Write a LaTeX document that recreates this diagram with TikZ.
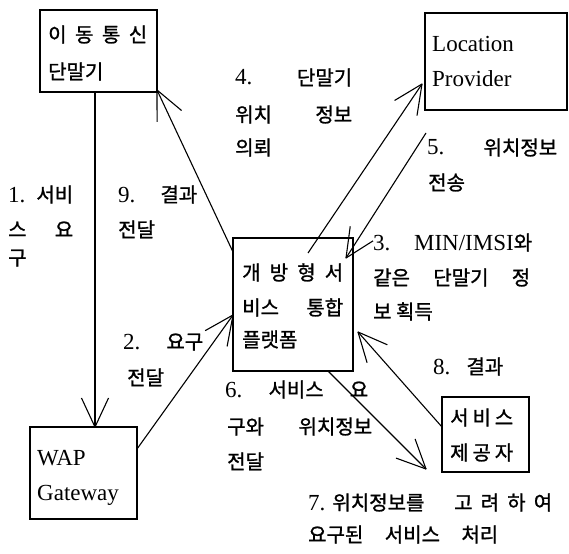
\documentclass[tikz,border=0pt]{standalone}
\usepackage{fontspec}
\setmainfont{Liberation Serif}
\newfontfamily\krfont[FakeBold=1.2]{Noto Sans CJK KR}
\usetikzlibrary{calc}
\newcommand\kk[1]{{\krfont\fontsize{20}{24}\selectfont #1}}
\newcommand\jst[2]{\makebox[#1pt][s]{#2}}
\newcommand\conn[2]{%
  \draw[ln] (#1) -- (#2);
  \draw[ln] ($(#2)!32pt!25:(#1)$) -- (#2) -- ($(#2)!32pt!-25:(#1)$);}
\begin{document}
\begin{tikzpicture}[x=1pt,y=-1pt,
  box/.style={draw, line width=1.3pt, inner sep=0pt, outer sep=0pt, anchor=north west},
  txt/.style={inner sep=0pt, anchor=base west, font=\fontsize{23}{27}\selectfont},
  ln/.style={line width=1.1pt, line join=round}]
\fill[white] (0,0) rectangle (569,553);
\useasboundingbox (0,0) rectangle (569,553);

% boxes
\node[box, minimum width=117pt, minimum height=82pt] (term) at (40,10) {};
\node[box, minimum width=142pt, minimum height=97pt] (lp) at (425,13) {};
\node[box, minimum width=120pt, minimum height=133pt] (plat) at (233,238) {};
\node[box, minimum width=107pt, minimum height=92pt] (wap) at (30,427) {};
\node[box, minimum width=87pt, minimum height=75pt] (sp) at (442,397) {};

% box texts
\node[txt] (t1) at (48,42) {\jst{99}{\kk{이\hfill 동\hfill 통\hfill 신}}};
\node[txt] (t2) at (48,79) {\kk{단말기}};
\node[txt] (lp1) at (432,52) {Location};
\node[txt] (lp2) at (432,87) {Provider};
\node[txt] (p1) at (242,280) {\jst{101}{\kk{개\hfill 방\hfill 형\hfill 서}}};
\node[txt] (p2) at (242,315) {\jst{101}{\kk{비스\hfill 통합}}};
\node[txt] (p3) at (242,347) {\kk{플랫폼}};
\node[txt] (w1) at (37,465) {WAP};
\node[txt] (w2) at (37,500) {Gateway};
\node[txt] (s1) at (450,425) {\jst{63}{\kk{서\hfill 비\hfill 스}}};
\node[txt] (s2) at (450,460) {\jst{63}{\kk{제\hfill 공\hfill 자}}};

% labels
\node[txt] (l4a) at (235,85) {\jst{117}{4.\hfill\kk{단말기}}};
\node[txt] (l4b) at (235,122) {\jst{117}{\kk{위치\hfill 정보}}};
\node[txt] (l4c) at (235,155) {\kk{의뢰}};
\node[txt] (l5a) at (427,155) {\jst{130}{5.\hfill\kk{위치정보}}};
\node[txt] (l5b) at (428,190) {\kk{전송}};
\node[txt] (l3a) at (373,250) {\jst{159}{3.\hfill MIN/IMSI\kk{와}}};
\node[txt] (l3b) at (373,285) {\jst{157}{\kk{같은\hfill 단말기\hfill 정}}};
\node[txt] (l3c) at (373,319) {\kk{보 획득}};
\node[txt] (l8) at (433,374) {\jst{70}{8.\hfill\kk{결과}}};
\node[txt] (l1a) at (8,202) {\jst{65}{1.\hfill\kk{서비}}};
\node[txt] (l1b) at (8,237) {\jst{65}{\kk{스\hfill 요}}};
\node[txt] (l1c) at (8,265) {\kk{구}};
\node[txt] (l9a) at (118,202) {\jst{79}{9.\hfill\kk{결과}}};
\node[txt] (l9b) at (118,237) {\kk{전달}};
\node[txt] (l2a) at (123,349) {\jst{80}{2.\hfill\kk{요구}}};
\node[txt] (l2b) at (127,385) {\kk{전달}};
\node[txt] (l6a) at (225,397) {\jst{143}{6.\hfill\kk{서비스\hfill 요}}};
\node[txt] (l6b) at (227,434) {\jst{145}{\kk{구와\hfill 위치정보}}};
\node[txt] (l6c) at (227,469) {\kk{전달}};
\node[txt] (l7a) at (308,510) {\jst{244}{7.\hspace{7pt}\kk{위치정보를}\hfill\jst{98}{\kk{고\hfill 려\hfill 하\hfill 여}}}};
\node[txt] (l7b) at (308,542) {\jst{190}{\kk{요구된\hfill 서비스\hfill 처리}}};

% connector end points
\coordinate (a1s) at (term.south -| 95,0);
\coordinate (a1e) at (wap.north -| 95,0);
\coordinate (a2s) at (wap.east |- 0,449);
\coordinate (a2e) at (plat.west |- 0,315);
\coordinate (a9s) at (plat.west |- 0,252);
\coordinate (a9e) at ($(term.south east)+(0,-2)$);
\coordinate (a4s) at ($(plat.north west)+(75,15)$);
\coordinate (a4e) at ($(lp.west |- 0,84)+(-3,0)$);
\coordinate (a5s) at ($(lp.south west)+(1,23)$);
\coordinate (a5e) at ($(plat.north east)+(-7,20)$);
\coordinate (a6s) at (plat.south -| 328,0);
\coordinate (a6e) at ($(sp.south west)+(-16,-3)$);
\coordinate (a8s) at (sp.west |- 0,427);
\coordinate (a8e) at ($(plat.east |- 0,332)+(5,0)$);

% connectors
\conn{a1s}{a1e}
\conn{a2s}{a2e}
\conn{a9s}{a9e}
\conn{a4s}{a4e}
\conn{a5s}{a5e}
\conn{a6s}{a6e}
\conn{a8s}{a8e}
\end{tikzpicture}
\end{document}
